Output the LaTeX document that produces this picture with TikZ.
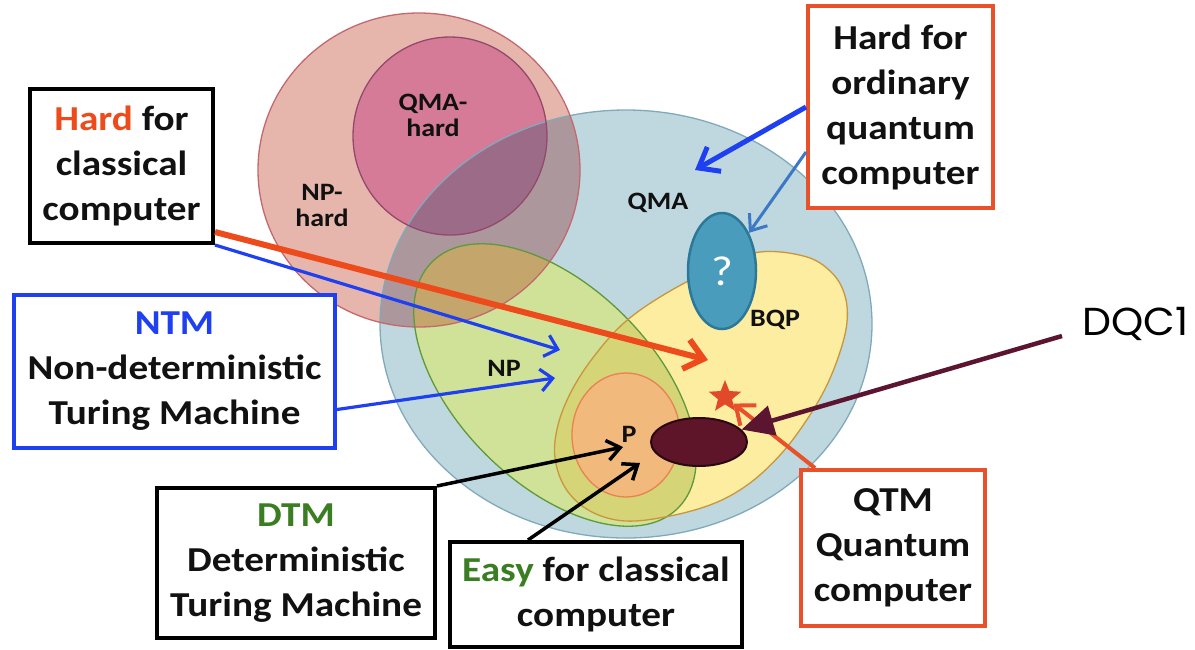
\documentclass[tikz,border=0pt]{standalone}
\usepackage{fontspec}
\setmainfont{Carlito}[FakeStretch=1.12]
\newfontfamily\dqcfont{Poppins}[FakeStretch=1.05]
\usetikzlibrary{arrows.meta,shapes.geometric,calc}
\definecolor{qmaF}{HTML}{BFD7DE}
\definecolor{qmaD}{HTML}{80AABB}
\definecolor{nphF}{HTML}{E6B6AC}
\definecolor{nphD}{HTML}{C4686F}
\definecolor{nphqmaF}{HTML}{AC989C}
\definecolor{qmahF}{HTML}{D57B98}
\definecolor{qmahD}{HTML}{93496B}
\definecolor{qmahqmaF}{HTML}{9C6B88}
\definecolor{npF}{HTML}{D0E298}
\definecolor{npD}{HTML}{5E993A}
\definecolor{npnphF}{HTML}{C4A66D}
\definecolor{bqpF}{HTML}{FCEDA0}
\definecolor{bqpD}{HTML}{C9963C}
\definecolor{npbqpF}{HTML}{D5D477}
\definecolor{pF}{HTML}{F2B97D}
\definecolor{pD}{HTML}{E8834E}
\definecolor{qmF}{HTML}{4A9CBD}
\definecolor{qmD}{HTML}{2C7898}
\definecolor{dqF}{HTML}{5E1529}
\definecolor{dqD}{HTML}{2A0810}
\definecolor{hardred}{HTML}{EE4B1C}
\definecolor{tmblue}{HTML}{1E40F0}
\definecolor{steel}{HTML}{3B78C6}
\definecolor{maroon}{HTML}{5C1530}
\definecolor{boxorange}{HTML}{E8512A}
\definecolor{starC}{HTML}{E2482A}
\definecolor{dgreen}{HTML}{3B7D23}
\definecolor{ink}{HTML}{111111}
\tikzset{
  box/.style={draw, fill=white, line width=4pt, inner sep=0pt, align=center, text=ink,
     font=\fontsize{35}{45}\selectfont\bfseries},
  lbl/.style={inner sep=0pt, align=center, text=ink, font=\fontsize{25}{26}\selectfont\bfseries},
  region/.style={line width=1.3pt},
  nprot/.style={shift={(555,385)}, rotate=-45},
  redarr/.style={draw=hardred, line width=6pt, -{Straight Barb[length=18pt,width=30pt]}},
  bluearr/.style={draw=tmblue, line width=3.2pt, -{Straight Barb[length=12pt,width=22pt]}},
  bluethick/.style={draw=tmblue, line width=5pt, -{Straight Barb[length=18pt,width=28pt]}},
  steelarr/.style={draw=steel, line width=3pt, -{Straight Barb[length=14pt,width=22pt]}},
  blackarr/.style={draw=black, line width=3.5pt, -{Straight Barb[length=13pt,width=20pt]}},
  qtmarr/.style={draw=boxorange, line width=4pt, -{Straight Barb[length=16pt,width=26pt]}},
  dqcarr/.style={draw=maroon, line width=4.5pt, -{Triangle[length=32pt,width=30pt]}},
}
\def\QMApath{(626,324) ellipse (246 and 214)}
\def\NPHpath{(419,170) ellipse (161 and 157)}
\def\QMAHpath{(450,136) ellipse (97 and 99)}
\def\BQPpath{plot[smooth cycle, tension=0.6] coordinates {(760,252) (807,257) (833,274) (845,296) (847,322) (840,352) (826,387) (806,421) (781,454) (750,483) (715,503) (670,516) (625,521) (590,511) (566,489) (555,458) (558,425) (572,390) (595,355) (625,322) (665,294) (715,268)}}
\def\Ppath{(626,435) ellipse (54 and 62)}
\begin{document}
\begin{tikzpicture}[x=1pt, y=-1pt]
\useasboundingbox (0,0) rectangle (1195,649);
% regions
\fill[qmaF] \QMApath;
\fill[nphF] \NPHpath;
\begin{scope}
  \clip \QMApath;
  \fill[nphqmaF] \NPHpath;
\end{scope}
\fill[qmahF] \QMAHpath;
\begin{scope}
  \clip \QMApath;
  \fill[qmahqmaF] \QMAHpath;
\end{scope}
\fill[npF, nprot] (0,0) ellipse (174 and 98);
\begin{scope}
  \clip \NPHpath;
  \fill[npnphF, nprot] (0,0) ellipse (174 and 98);
\end{scope}
\fill[bqpF] \BQPpath;
\begin{scope}
  \clip[nprot] (0,0) ellipse (174 and 98);
  \fill[npbqpF] \BQPpath;
\end{scope}
\fill[pF] \Ppath;
% borders
\draw[qmaD, region] \QMApath;
\draw[nphD, region] \NPHpath;
\draw[qmahD, region] \QMAHpath;
\draw[npD, region, nprot] (0,0) ellipse (174 and 98);
\draw[bqpD, region] \BQPpath;
\draw[pD, region] \Ppath;
% special shapes
\node[ellipse, draw=qmD, fill=qmF, line width=2.5pt, minimum width=68, minimum height=116, inner sep=0pt,
      text=white, font=\fontsize{42}{42}\selectfont] (qmark) at (722,271) {?};
\node[ellipse, draw=dqD, fill=dqF, line width=2pt, minimum width=96, minimum height=48, inner sep=0pt] (dqcell) at (699,442) {};
\node[star, star points=5, star point ratio=2.3, fill=starC, minimum size=34, inner sep=0pt] (star) at (725,397) {};
% labels
\node[lbl] (qmahardlbl) at (433,115) {QMA-\\hard};
\node[lbl] (nphardlbl) at (322,205) {NP-\\hard};
\node[lbl] (qmalbl) at (658,203) {QMA};
\node[lbl] (nplbl) at (504,368) {NP};
\node[lbl] (bqplbl) at (775,320) {BQP};
\node[lbl] (plbl) at (629,434) {P};
% boxes
\node[box, minimum width=183, minimum height=154] (hardc) at (121.5,166) {{\color{hardred}Hard} for\\classical\\computer};
\node[box, draw=tmblue, minimum width=321, minimum height=153] (ntm) at (174.5,371.5) {{\color{tmblue}NTM}\\Non-deterministic\\Turing Machine};
\node[box, minimum width=278, minimum height=150] (dtm) at (296,563) {{\color{dgreen}DTM}\\Deterministic\\Turing Machine};
\node[box, minimum width=292, minimum height=105] (easy) at (596,594.5) {{\color{dgreen}Easy} for classical\\computer};
\node[box, draw=boxorange, minimum width=184, minimum height=156] (qtm) at (893,548) {QTM\\Quantum\\computer};
\node[box, draw=boxorange, minimum width=185, minimum height=202] (hardq) at (900.5,107) {Hard for\\ordinary\\quantum\\computer};
\node[anchor=base west, inner sep=0pt, font=\dqcfont\fontsize{39}{39}\selectfont, text=black] (dqc1) at (1082,335) {DQC1};
% arrow targets
\coordinate (tipRed) at (708,360);
\coordinate (tipB1) at (560,350);
\coordinate (tipB2) at (555,378);
\coordinate (tipQ1) at (695,170);
\coordinate (tipK1) at (623,447);
\coordinate (tipK2) at (640,463);
% arrows
\draw[redarr] ($(hardc.south east)+(0,-13)$) -- (tipRed);
\draw[bluearr] (hardc.south east) -- (tipB1);
\draw[bluearr] ($(ntm.east)+(0,38)$) -- (tipB2);
\draw[bluethick] (hardq.west) -- (tipQ1);
\draw[steelarr] ($(hardq.west)+(0,45)$) -- (qmark);
\draw[blackarr] (dtm.north east) -- (tipK1);
\draw[blackarr] ($(easy.north west)+(80,0)$) -- (tipK2);
\draw[qtmarr] ($(qtm.north west)+(16,0)$) -- (star);
\draw[dqcarr] ($(dqc1.base west)+(-20,1)$) -- (dqcell);
\end{tikzpicture}
\end{document}
